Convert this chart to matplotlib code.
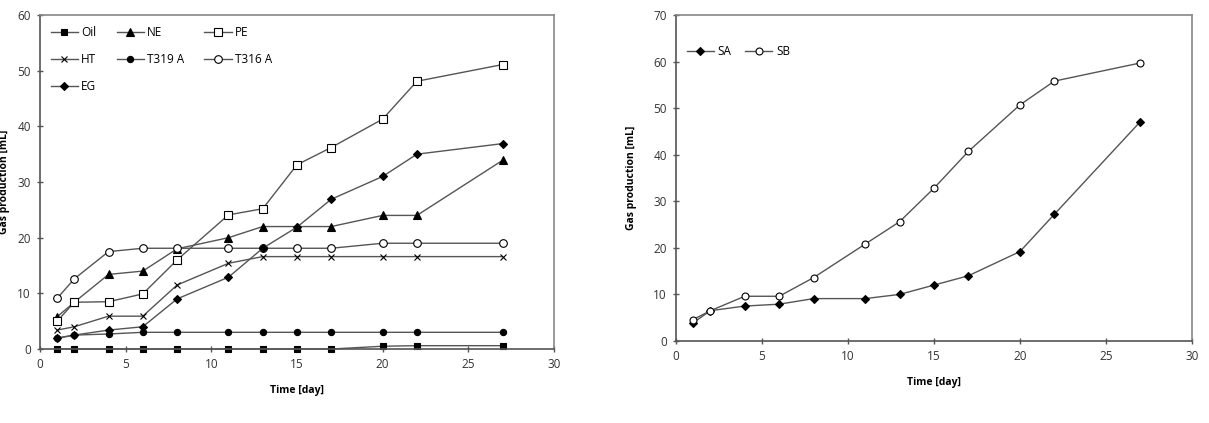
import numpy as np
import matplotlib.pyplot as plt

plt.rcParams['font.family'] = ['Open Sans', 'DejaVu Sans']
plt.rcParams['font.size'] = 8.5

# ---- data (a)
days = [1, 2, 4, 6, 8, 11, 13, 15, 17, 20, 22, 27]
oil = [0, 0, 0, 0, 0, 0, 0, 0, 0, 0.5, 0.6, 0.6]
ne = [5.8, 8.4, 13.4, 14.0, 18.0, 20.0, 22.0, 22.0, 22.0, 24.0, 24.0, 33.9]
pe = [5.0, 8.4, 8.5, 9.9, 16.0, 24.1, 25.2, 33.1, 36.2, 41.3, 48.1, 51.1]
ht = [3.4, 4.0, 5.9, 5.9, 11.5, 15.4, 16.6, 16.6, 16.6, 16.6, 16.6, 16.6]
t319a = [1.9, 2.5, 2.7, 3.0, 3.0, 3.0, 3.0, 3.0, 3.0, 3.0, 3.0, 3.0]
t316a = [9.1, 12.6, 17.5, 18.1, 18.1, 18.1, 18.1, 18.1, 18.1, 19.0, 19.0, 19.0]
eg = [2.0, 2.5, 3.4, 4.0, 9.0, 12.9, 18.1, 21.9, 26.9, 31.0, 35.0, 36.9]

# ---- data (b)
sa = [3.9, 6.5, 7.5, 7.9, 9.1, 9.1, 10.0, 12.0, 14.0, 19.2, 27.2, 47.1]
sb = [4.6, 6.5, 9.6, 9.6, 13.6, 20.8, 25.6, 32.8, 40.7, 50.7, 55.8, 59.7]

fig = plt.figure(figsize=(12.09, 4.23), dpi=100)
ax1 = fig.add_axes([0.0331, 0.1749, 0.4251, 0.7896])
ax2 = fig.add_axes([0.5591, 0.1939, 0.4268, 0.7707])

lc = '#555555'
kw = dict(color=lc, lw=1.0, markeredgecolor='black', markeredgewidth=0.8, clip_on=False)

h = {}
h['Oil'], = ax1.plot(days, oil, marker='s', ms=5, markerfacecolor='black', label='Oil', **kw)
h['NE'], = ax1.plot(days, ne, marker='^', ms=5.5, markerfacecolor='black', label='NE', **kw)
h['PE'], = ax1.plot(days, pe, marker='s', ms=5.5, markerfacecolor='white', label='PE', **kw)
h['HT'], = ax1.plot(days, ht, marker='x', ms=5, label='HT', **kw)
h['T319 A'], = ax1.plot(days, t319a, marker='o', ms=4.5, markerfacecolor='black', label='T319 A', **kw)
h['T316 A'], = ax1.plot(days, t316a, marker='o', ms=5.5, markerfacecolor='white', label='T316 A', **kw)
h['EG'], = ax1.plot(days, eg, marker='D', ms=4, markerfacecolor='black', label='EG', **kw)

# legend filled row by row like the original
order = ['Oil', 'HT', 'EG', 'NE', 'T319 A', 'PE', 'T316 A']
ax1.legend([h[k] for k in order], order, ncol=3, frameon=False, loc='upper left',
           bbox_to_anchor=(0.0, 1.0), handlelength=2.3, columnspacing=1.7,
           labelspacing=1.2, handletextpad=0.3, fontsize=8.5)

ax2.plot(days, sa, marker='D', ms=4, markerfacecolor='black', label='SA', **kw)
ax2.plot(days, sb, marker='o', ms=5, markerfacecolor='white', label='SB', **kw)
ax2.legend(ncol=2, frameon=False, loc='upper left', bbox_to_anchor=(0.0, 0.94),
           handlelength=2.3, columnspacing=1.2, handletextpad=0.3, fontsize=8.5)

for ax, ymax, lx in [(ax1, 60, -0.058), (ax2, 70, -0.075)]:
    ax.set_xlim(0, 30)
    ax.set_ylim(0, ymax)
    ax.set_xticks(range(0, 31, 5))
    ax.set_yticks(range(0, ymax + 1, 10))
    for s in ax.spines.values():
        s.set_color('#888888')
        s.set_linewidth(1.2)
    ax.spines['left'].set_color('#555555')
    ax.spines['bottom'].set_color('#555555')
    ax.tick_params(direction='inout', length=5, width=1, color='#555555',
                   labelcolor='#333333', labelsize=8.5, pad=4)
    ax.set_xlabel('Time [day]', fontsize=7.5, fontweight='bold', labelpad=10)
    ax.set_ylabel('Gas production [mL]', fontsize=7.5, fontweight='bold')
    ax.yaxis.set_label_coords(lx, 0.5)

fig.savefig('out.png', dpi=100)
